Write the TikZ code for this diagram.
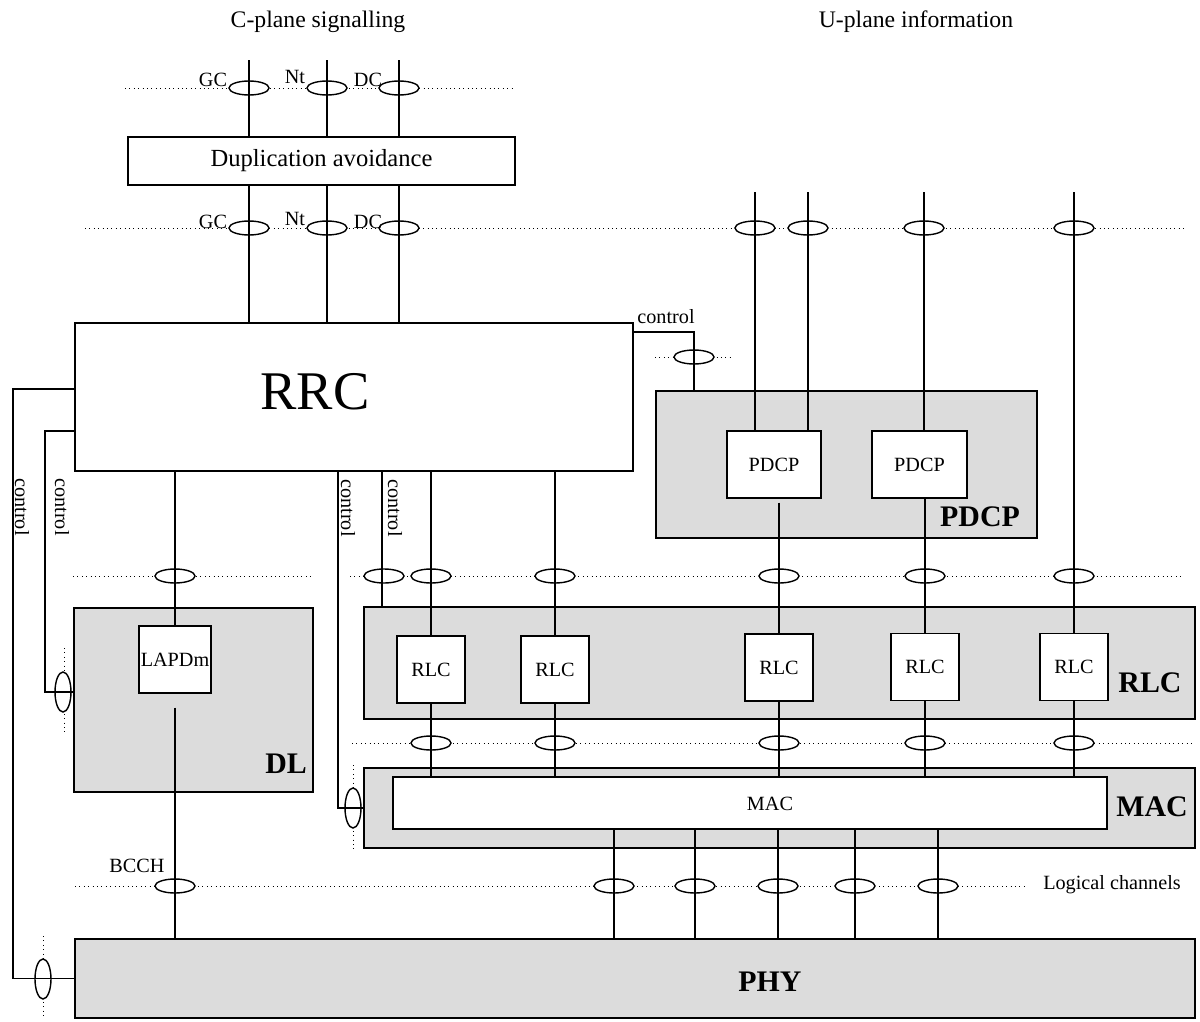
\documentclass[tikz,border=0pt]{standalone}
\usepackage{fontspec}
\setmainfont{Liberation Serif}
\usetikzlibrary{positioning}
\definecolor{laygray}{RGB}{220,220,220}
\tikzset{
  layer/.style={draw, fill=laygray, inner sep=0pt},
  blk/.style={draw, fill=white, inner sep=0pt, font=\fontsize{11.5}{13}\selectfont},
  laytxt/.style={inner sep=0pt, font=\fontsize{17}{19}\selectfont\bfseries},
  lbl/.style={inner sep=1pt, font=\fontsize{11.5}{13}\selectfont},
  sap/.style={dotted, line width=0.5pt},
  ringst/.style={fill=white, line width=0.8pt},
}
\begin{document}
\begin{tikzpicture}[x=0.02cm,y=-0.02cm,line width=0.8pt]
\useasboundingbox (0,0) rectangle (1200,1021);
% 标题
\node[lbl, font=\fontsize{13.5}{15}\selectfont] (ctitle) at (318,22) {C-plane signalling};
\node[lbl, font=\fontsize{13.5}{15}\selectfont] (utitle) at (916,22) {U-plane information};
% 方框
\node[blk, font=\fontsize{14}{16}\selectfont, minimum width=7.74cm, minimum height=0.96cm] (dup) at (321.5,161) {Duplication avoidance};
\node[blk, minimum width=11.16cm, minimum height=2.96cm] (rrc) at (354,397) {};
\node[inner sep=0pt, font=\fontsize{31}{34}\selectfont] (rrctxt) at (315,392) {RRC};
\node[layer, minimum width=7.62cm, minimum height=2.94cm] (pdcpL) at (846.5,464.5) {};
\node[blk, minimum width=1.88cm, minimum height=1.34cm] (pdcp1) at (774,464.5) {PDCP};
\node[blk, minimum width=1.9cm, minimum height=1.34cm] (pdcp2) at (919.5,464.5) {PDCP};
\node[laytxt] (pdcptxt) at (980,517) {PDCP};
\node[layer, minimum width=4.78cm, minimum height=3.68cm] (dl) at (193.5,700) {};
\node[blk, minimum width=1.44cm, minimum height=1.34cm] (lapdm) at (175,659.5) {LAPDm};
\node[laytxt] (dltxt) at (286,764) {DL};
\node[layer, minimum width=16.62cm, minimum height=2.24cm] (rlcL) at (779.5,663) {};
\node[blk, minimum width=1.36cm, minimum height=1.34cm] (rlc1) at (431,669.5) {RLC};
\node[blk, minimum width=1.36cm, minimum height=1.34cm] (rlc2) at (555,669.5) {RLC};
\node[blk, minimum width=1.36cm, minimum height=1.34cm] (rlc3) at (779,667.5) {RLC};
\node[blk, minimum width=1.36cm, minimum height=1.34cm] (rlc4) at (925,667) {RLC};
\node[blk, minimum width=1.36cm, minimum height=1.34cm] (rlc5) at (1074,667) {RLC};
\node[laytxt] (rlctxt) at (1150,683) {RLC};
\node[layer, minimum width=16.62cm, minimum height=1.6cm] (macL) at (779.5,808) {};
\node[blk, minimum width=14.28cm, minimum height=1.04cm] (mac) at (750,803) {};
\node[inner sep=0pt, font=\fontsize{11.5}{13}\selectfont] (mactxt) at (770,804) {MAC};
\node[laytxt] (macltxt) at (1152,807) {MAC};
\node[layer, minimum width=22.4cm, minimum height=1.58cm] (phy) at (635,978.5) {};
\node[laytxt] (phytxt) at (770,982) {PHY};
% 点线
\draw[sap] (125,88) -- (512,88);
\draw[sap] (85,228) -- (1187,228);
\draw[sap] (655,357) -- (733,357);
\draw[sap] (73,576) -- (313,576);
\draw[sap] (350,576) -- (1183,576);
\draw[sap] (352,743) -- (1193,743);
\draw[sap] (75,886) -- (1027,886);
\draw[sap] (64,648) -- (64,734);
\draw[sap] (353,765) -- (353,851);
\draw[sap] (43,936) -- (43,1019);
% 椭圆
\foreach \x in {249,327,399}
  \draw[ringst] (\x,88) ellipse [x radius=20, y radius=7];
\foreach \x in {249,327,399,755,808,924,1074}
  \draw[ringst] (\x,228) ellipse [x radius=20, y radius=7];
\draw[ringst] (694,357) ellipse [x radius=20, y radius=7];
\foreach \x in {175,384,431,555,779,925,1074}
  \draw[ringst] (\x,576) ellipse [x radius=20, y radius=7];
\foreach \x in {431,555,779,925,1074}
  \draw[ringst] (\x,743) ellipse [x radius=20, y radius=7];
\foreach \x in {175,614,695,778,855,938}
  \draw[ringst] (\x,886) ellipse [x radius=20, y radius=7];
\draw[ringst] (63,692) ellipse [x radius=8, y radius=20];
\draw[ringst] (353,808) ellipse [x radius=8, y radius=20];
\draw[ringst] (43,979) ellipse [x radius=8, y radius=20];
% C 面
\foreach \n/\x in {gc/249,nt/327,dc/399} {
  \coordinate (\n) at (\x,60);
  \draw (\n) -- (\n |- dup.north);
  \draw (\n |- dup.south) -- (\n |- rrc.north);
}
\foreach \y [count=\i] in {80,222} {
  \node[lbl] (gcl\i) at (213,\y) {GC};
  \node[lbl] (ntl\i) at (295,\y-3) {Nt};
  \node[lbl] (dcl\i) at (368,\y) {DC};
}
% U 面
\coordinate (u1) at (755,192);
\coordinate (u2) at (808,192);
\coordinate (u3) at (924,192);
\coordinate (u4) at (1074,192);
\draw (u1) -- (u1 |- pdcp1.north);
\draw (u2) -- (u2 |- pdcp1.north);
\draw (u3) -- (u3 |- pdcp2.north);
\draw (u4) -- (u4 |- rlc5.north);
\draw (rlc3.north |- pdcp1.south) ++(0,4) -- (rlc3.north);
\draw (rlc4.north |- pdcp2.south) -- (rlc4.north);
% RRC 向下
\draw (rrc.south -| lapdm.north) -- (lapdm.north);
\draw (lapdm.south) ++(0,14) -- (lapdm.south |- phy.north);
\draw (rrc.south -| rlc1.north) -- (rlc1.north);
\draw (rrc.south -| rlc2.north) -- (rlc2.north);
\foreach \i in {1,...,5}
  \draw (rlc\i.south) -- (rlc\i.south |- mac.north);
\foreach \x [count=\i] in {614,695,778,855,938} {
  \coordinate (lc\i) at (\x,886);
  \draw (lc\i |- mac.south) -- (lc\i |- phy.north);
}
\node[lbl] (bcch) at (137,866) {BCCH};
\node[lbl] (logch) at (1112,885) {Logical channels};
% 控制线
\coordinate (c1) at (13,389);
\draw (rrc.west |- c1) -- (c1) |- (phy.west);
\coordinate (c2) at (45,431);
\draw (rrc.west |- c2) -- (c2) |- ([yshift=0.16cm]dl.west);
\coordinate (c3) at (338,500);
\draw (rrc.south -| c3) |- (macL.west);
\coordinate (c4) at (382,500);
\draw (rrc.south -| c4) -- (c4 |- rlcL.north);
\coordinate (c5) at (694,332);
\draw (rrc.east |- c5) -- (c5) -- (c5 |- pdcpL.north);
\node[lbl] (ctl5) at (666,317) {control};
\node[lbl, rotate=-90] (ctl1) at (22,507) {control};
\node[lbl, rotate=-90] (ctl2) at (62,507) {control};
\node[lbl, rotate=-90] (ctl3) at (348,508) {control};
\node[lbl, rotate=-90] (ctl4) at (395,508) {control};
\end{tikzpicture}
\end{document}
